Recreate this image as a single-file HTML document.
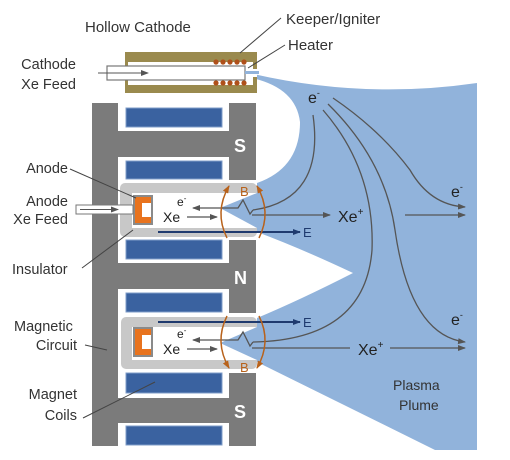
<!DOCTYPE html>
<html><head><meta charset="utf-8"><style>
html,body{margin:0;padding:0;background:#fff;}
svg{display:block;font-family:"Liberation Sans",sans-serif;}
</style></head><body>
<svg width="510" height="460" viewBox="0 0 510 460">
<defs>
<marker id="ag" markerWidth="8" markerHeight="8" refX="7" refY="4" orient="auto" markerUnits="userSpaceOnUse"><path d="M0,1 L8,4 L0,7 Z" fill="#555"/></marker>
<marker id="an" markerWidth="8" markerHeight="8" refX="7" refY="4" orient="auto" markerUnits="userSpaceOnUse"><path d="M0,1 L8,4 L0,7 Z" fill="#1f3a6e"/></marker>
<marker id="ao" markerWidth="8" markerHeight="8" refX="7" refY="4" orient="auto" markerUnits="userSpaceOnUse"><path d="M0,1 L8,4 L0,7 Z" fill="#b8621b"/></marker>
</defs>

<path fill="#91b3db" d="M245,72 Q360,100 477,83 L477,450 L435,450 L257,362 L257,318 Q300,300 353,273 Q300,248 257,232 L257,183 Q300,168 300,122 Q296,88 252,78 Z"/>

<g fill="#7b7b7b">
<rect x="92" y="103" width="26" height="343"/>
<rect x="229" y="103" width="27" height="77"/>
<rect x="92" y="131" width="164" height="26"/>
<rect x="229" y="240" width="27" height="73"/>
<rect x="92" y="263" width="164" height="26"/>
<rect x="229" y="373" width="27" height="73"/>
<rect x="92" y="398" width="164" height="25"/>
</g>
<g fill="#3a62a0" stroke="#7f9cc8" stroke-width="1">
<rect x="126" y="108" width="96" height="19"/>
<rect x="126" y="161" width="96" height="18"/>
<rect x="126" y="240" width="96" height="19"/>
<rect x="126" y="293" width="96" height="19"/>
<rect x="126" y="373" width="96" height="20"/>
<rect x="126" y="426" width="96" height="19"/>
</g>
<g fill="#fff" font-weight="bold" font-size="18">
<text x="234" y="152">S</text>
<text x="234" y="284">N</text>
<text x="234" y="418">S</text>
</g>

<g>
<rect x="120" y="183" width="137" height="54" rx="5" fill="#c8c8c8"/>
<rect x="132" y="193" width="125" height="35" fill="#fff"/>
<path d="M220,208 L257,193 L257,228 Z" fill="#91b3db"/>
</g>
<g>
<rect x="121" y="317" width="136" height="52" rx="5" fill="#c8c8c8"/>
<rect x="132" y="327" width="125" height="33" fill="#fff"/>
<path d="M220,343 L257,327 L257,360 Z" fill="#91b3db"/>
</g>

<g>
<rect x="133" y="195" width="20" height="30" fill="#8a8a8a"/>
<rect x="135" y="197" width="16" height="26" fill="#e8731e"/>
<rect x="142" y="203" width="9" height="14" fill="#fff"/>
</g>
<g>
<rect x="133" y="327" width="20" height="30" fill="#8a8a8a"/>
<rect x="135" y="329" width="16" height="26" fill="#e8731e"/>
<rect x="142" y="335" width="9" height="14" fill="#fff"/>
</g>
<g>
<rect x="76" y="205" width="57" height="9" fill="#fff" stroke="#777" stroke-width="1"/>
<line x1="80" y1="209.5" x2="118" y2="209.5" stroke="#555" stroke-width="1" marker-end="url(#ag)"/>
</g>

<g>
<rect x="125" y="52" width="132" height="41" fill="#9a8a4e"/>
<rect x="128" y="62" width="125" height="23" fill="#fff"/>
<rect x="253" y="69" width="4" height="8" fill="#fff"/>
<rect x="107" y="66" width="138" height="14" fill="#fff" stroke="#777" stroke-width="1.2"/>
<line x1="98" y1="73" x2="148" y2="73" stroke="#555" stroke-width="1" marker-end="url(#ag)"/>
<g fill="#b0501a">
<circle cx="216" cy="62" r="2.6"/><circle cx="223" cy="62" r="2.6"/><circle cx="230" cy="62" r="2.6"/><circle cx="237" cy="62" r="2.6"/><circle cx="244" cy="62" r="2.6"/>
<circle cx="216" cy="83" r="2.6"/><circle cx="223" cy="83" r="2.6"/><circle cx="230" cy="83" r="2.6"/><circle cx="237" cy="83" r="2.6"/><circle cx="244" cy="83" r="2.6"/>
</g>
<rect x="245" y="71" width="14" height="3" fill="#91b3db"/>
</g>

<g fill="none" stroke="#555" stroke-width="1.3">
<path d="M313,115 Q325,200 253,210"/>
<path d="M333,98 Q380,130 410,170 Q430,205 465,207" marker-end="url(#ag)"/>
<path d="M323,110 Q375,170 372,250 Q365,340 253,342"/>
<path d="M328,104 Q385,160 395,230 Q410,335 465,342" marker-end="url(#ag)"/>
<path d="M253,210 L250,214 L243,200 L238,208 L223,208" />
<line x1="223" y1="208" x2="193" y2="208" marker-end="url(#ag)"/>
<path d="M253,342 L250,346 L243,332 L238,340 L223,340"/>
<line x1="223" y1="340" x2="193" y2="340" marker-end="url(#ag)"/>
<line x1="187" y1="217" x2="217" y2="217" marker-end="url(#ag)"/>
<line x1="187" y1="349" x2="217" y2="349" marker-end="url(#ag)"/>
<line x1="252" y1="215" x2="330" y2="215" marker-end="url(#ag)"/>
<line x1="405" y1="215" x2="465" y2="215" marker-end="url(#ag)"/>
<line x1="252" y1="348" x2="350" y2="348"/>
<line x1="390" y1="348" x2="465" y2="348" marker-end="url(#ag)"/>
</g>
<g stroke="#1f3a6e" stroke-width="2">
<line x1="158" y1="232" x2="300" y2="232" marker-end="url(#an)"/>
<line x1="158" y1="322" x2="300" y2="322" marker-end="url(#an)"/>
</g>
<g fill="none" stroke="#b8621b" stroke-width="1.5">
<path d="M227,238 Q214,212 229,186" marker-end="url(#ao)"/>
<path d="M259,238 Q272,212 257,186" marker-end="url(#ao)"/>
<path d="M227,316 Q214,342 229,368" marker-end="url(#ao)"/>
<path d="M259,316 Q272,342 257,368" marker-end="url(#ao)"/>
</g>
<g fill="#b8621b" font-size="13">
<text x="240" y="196">B</text>
<text x="240" y="372">B</text>
</g>
<g fill="#1f3a6e" font-size="13">
<text x="303" y="237">E</text>
<text x="303" y="327">E</text>
</g>

<g fill="#222" font-size="14">
<text x="163" y="222">Xe</text>
<text x="177" y="206" font-size="12">e<tspan font-size="8" dy="-5">-</tspan></text>
<text x="163" y="354">Xe</text>
<text x="177" y="338" font-size="12">e<tspan font-size="8" dy="-5">-</tspan></text>
<text x="338" y="222" font-size="16">Xe<tspan font-size="10" dy="-7">+</tspan></text>
<text x="358" y="355" font-size="16">Xe<tspan font-size="10" dy="-7">+</tspan></text>
<text x="308" y="103" font-size="16">e<tspan font-size="9" dy="-7">-</tspan></text>
<text x="451" y="197" font-size="16">e<tspan font-size="9" dy="-7">-</tspan></text>
<text x="451" y="325" font-size="16">e<tspan font-size="9" dy="-7">-</tspan></text>
</g>
<g fill="#333" font-size="14">
<text x="393" y="390">Plasma</text>
<text x="399" y="410">Plume</text>
</g>

<g fill="#333" font-size="14.5">
<text x="85" y="32" font-size="15">Hollow Cathode</text>
<text x="286" y="24" font-size="15">Keeper/Igniter</text>
<text x="288" y="50" font-size="15">Heater</text>
<text x="76" y="69" text-anchor="end">Cathode</text>
<text x="76" y="89" text-anchor="end">Xe Feed</text>
<text x="68" y="173" text-anchor="end">Anode</text>
<text x="68" y="206" text-anchor="end">Anode</text>
<text x="68" y="224" text-anchor="end">Xe Feed</text>
<text x="12" y="274">Insulator</text>
<text x="14" y="331">Magnetic</text>
<text x="77" y="350" text-anchor="end">Circuit</text>
<text x="77" y="399" text-anchor="end">Magnet</text>
<text x="77" y="420" text-anchor="end">Coils</text>
</g>
<g stroke="#444" stroke-width="1">
<line x1="281" y1="18" x2="240" y2="53"/>
<line x1="285" y1="45" x2="248" y2="68"/>
<line x1="70" y1="169" x2="136" y2="198"/>
<line x1="82" y1="268" x2="133" y2="230"/>
<line x1="85" y1="345" x2="107" y2="350"/>
<line x1="83" y1="418" x2="155" y2="382"/>
</g>
</svg>
</body></html>
